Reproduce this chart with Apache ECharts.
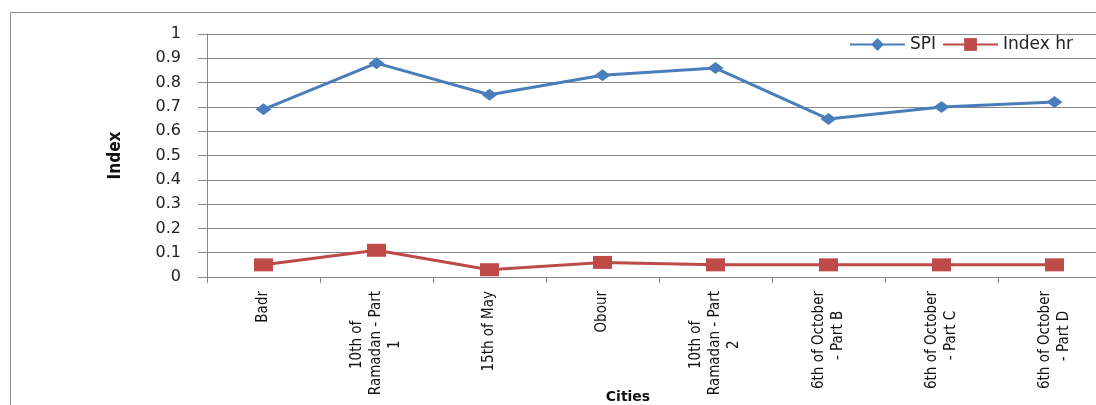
<!DOCTYPE html>
<html>
<head>
<meta charset="utf-8">
<script src="https://cdn.jsdelivr.net/npm/echarts@6/dist/echarts.min.js"></script>
<style>
  html, body { margin: 0; padding: 0; background: #fff; }
  #main { width: 1096px; height: 405px; }
</style>
</head>
<body>
<div id="main"></div>
<script>
var cities = [
  "Badr",
  "10th of\nRamadan - Part\n1",
  "15th of May",
  "Obour",
  "10th of\nRamadan - Part\n2",
  "6th of October\n- Part B",
  "6th of October\n- Part C",
  "6th of October\n- Part D"
];
var spi = [0.69, 0.88, 0.75, 0.83, 0.86, 0.65, 0.70, 0.72];
var indexHr = [0.05, 0.11, 0.03, 0.06, 0.05, 0.05, 0.05, 0.05];

var narrow = '"Liberation Sans Narrow", "DejaVu Sans Condensed", sans-serif';
var wide = '"DejaVu Sans", Verdana, sans-serif';
var labelSize = 15;

// pad short lines with blank glyphs (not trimmed as whitespace) so the lines of a label centre on each other
var PAD = "\u2800";
var ctx = document.createElement("canvas").getContext("2d");
ctx.font = labelSize + "px " + narrow;
var padW = ctx.measureText(PAD).width || 4;
function centreLines(label) {
  var lines = label.split("\n");
  var ws = lines.map(function (l) { return ctx.measureText(l).width; });
  var max = Math.max.apply(null, ws);
  return lines.map(function (l, i) {
    var n = Math.round((max - ws[i]) / 2 / padW);
    return l + new Array(n + 1).join(PAD);
  }).join("\n");
}

var chart = echarts.init(document.getElementById("main"));
chart.setOption({
  animation: false,
  backgroundColor: "#fff",
  graphic: [{
    type: "rect",
    shape: { x: 10.5, y: 12.5, width: 1200, height: 500 },
    style: { fill: null, stroke: "#8c8c8c", lineWidth: 1 },
    silent: true
  }],
  legend: {
    top: 31,
    right: 18,
    itemWidth: 55,
    itemHeight: 16,
    itemGap: 6,
    textStyle: { fontFamily: wide, fontSize: 17, color: "#222" },
    data: ["SPI", "Index hr"]
  },
  grid: { left: 207, top: 34, bottom: 128, right: -15, outerBoundsMode: "none", containLabel: false },
  xAxis: {
    type: "category",
    data: cities,
    name: "Cities",
    nameLocation: "middle",
    nameGap: 113,
    nameMoveOverlap: false,
    nameTextStyle: { fontFamily: wide, fontWeight: "bold", fontSize: 14, color: "#111", padding: [0, 62, 0, 0] },
    axisLine: { lineStyle: { color: "#868686" } },
    axisTick: { show: true, length: 6, lineStyle: { color: "#868686" } },
    axisLabel: {
      rotate: 90,
      interval: 0,
      margin: 14,
      fontFamily: narrow,
      fontSize: labelSize,
      color: "#111",
      lineHeight: 19,
      formatter: function (v) { return centreLines(v); }
    }
  },
  yAxis: {
    type: "value",
    min: 0,
    max: 1,
    interval: 0.1,
    name: "Index",
    nameLocation: "middle",
    nameRotate: 90,
    nameGap: 83,
    nameMoveOverlap: false,
    nameTextStyle: { fontFamily: narrow, fontWeight: "bold", fontSize: 17, color: "#111" },
    axisLine: { show: true, lineStyle: { color: "#868686" } },
    axisTick: { show: true, length: 9, lineStyle: { color: "#868686" } },
    axisLabel: {
      margin: 26,
      fontFamily: wide,
      fontSize: 16,
      color: "#222",
      formatter: function (v) { return String(Math.round(v * 10) / 10); }
    },
    splitLine: { lineStyle: { color: "#868686", width: 1 } }
  },
  series: [
    {
      name: "SPI",
      type: "line",
      data: spi,
      symbol: "diamond",
      symbolSize: [16, 12],
      itemStyle: { color: "#4a7ebb" },
      lineStyle: { color: "#4a7ebb", width: 3 }
    },
    {
      name: "Index hr",
      type: "line",
      data: indexHr,
      symbol: "rect",
      symbolSize: [19, 13],
      itemStyle: { color: "#be4b48" },
      lineStyle: { color: "#be4b48", width: 3 }
    }
  ]
});
</script>
</body>
</html>
